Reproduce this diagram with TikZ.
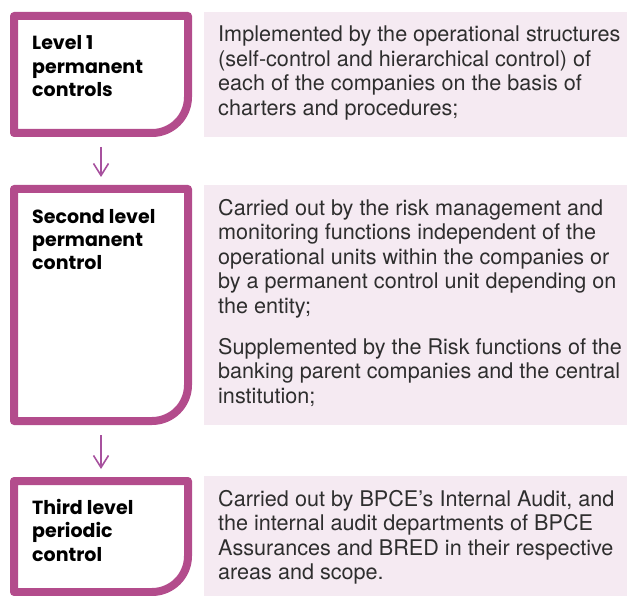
\documentclass[tikz,border=0pt]{standalone}
\usepackage{fontspec}
\setmainfont{TeX Gyre Heros}
\newfontfamily\labelfont{Poppins}
\usetikzlibrary{arrows.meta}
\definecolor{framemagenta}{HTML}{B34C8C}
\definecolor{panelpink}{HTML}{F5EAF2}
\definecolor{arrowpurple}{HTML}{A7519E}

% Frame of a level box: square corners except the large rounded bottom-right one
\newcommand\drawlevelframe[1]{%
  \draw[border] (#1.south west) -- (#1.north west) -- (#1.north east)
    -- ([yshift=36pt]#1.south east) arc[start angle=0,end angle=-90,radius=36pt]
    -- cycle;}

\begin{document}
\begin{tikzpicture}[x=1pt,y=1pt,
  frame/.style={draw=none,inner sep=0,outer sep=0,anchor=north west,minimum width=174pt},
  border/.style={draw=framemagenta,line width=8pt,line join=round},
  panel/.style={fill=panelpink,draw=none,inner sep=0,outer sep=0,anchor=north west,minimum width=423pt},
  % multi-line texts are placed by the baseline of their last line
  levellabel/.style={anchor=base west,inner sep=0,align=left,
    font=\labelfont\bfseries\fontsize{19}{23.5}\selectfont},
  desc/.style={anchor=base west,inner sep=0,align=left,text=black!82,
    font=\fontsize{21.6}{24.5}\selectfont},
  flow/.style={draw=arrowpurple,line width=1.6pt,shorten <=14pt,shorten >=12pt,
    -{Straight Barb[length=12pt,width=15pt]}},
]
\useasboundingbox (0,0) rectangle (627,-596);

% level boxes
\node[frame,minimum height=117pt] (b1) at (14,-16) {};
\node[frame,minimum height=232pt] (b2) at (14,-189) {};
\node[frame,minimum height=111pt] (b3) at (14,-481) {};
\drawlevelframe{b1}
\drawlevelframe{b2}
\drawlevelframe{b3}

\node[levellabel] (l1) at (32,-97) {Level 1\\permanent\\controls};
\node[levellabel] (l2) at (32,-270) {Second level\\permanent\\control};
\node[levellabel] (l3) at (32,-561) {Third level\\periodic\\control};

% description panels
\node[panel,minimum height=125pt] (p1) at (204,-12) {};
\node[panel,minimum height=240pt] (p2) at (204,-185) {};
\node[panel,minimum height=120pt] (p3) at (204,-476) {};

\node[desc] (d1) at (218,-115.5) {Implemented by the operational structures\\
(self-control and hierarchical control) of\\
each of the companies on the basis of\\
charters and procedures;};

\node[desc] (d2) at (218,-403) {Carried out by the risk management and\\
monitoring functions independent of the\\
operational units within the companies or\\
by a permanent control unit depending on\\
the entity;\\[16.5pt]
Supplemented by the Risk functions of the\\
banking parent companies and the central\\
institution;};

\node[desc] (d3) at (218,-579.5) {Carried out by BPCE’s Internal Audit, and\\
the internal audit departments of BPCE\\
Assurances and BRED in their respective\\
areas and scope.};

% flow between levels
\draw[flow] (b1.south) -- (b2.north);
\draw[flow] (b2.south) -- (b3.north);
\end{tikzpicture}
\end{document}
